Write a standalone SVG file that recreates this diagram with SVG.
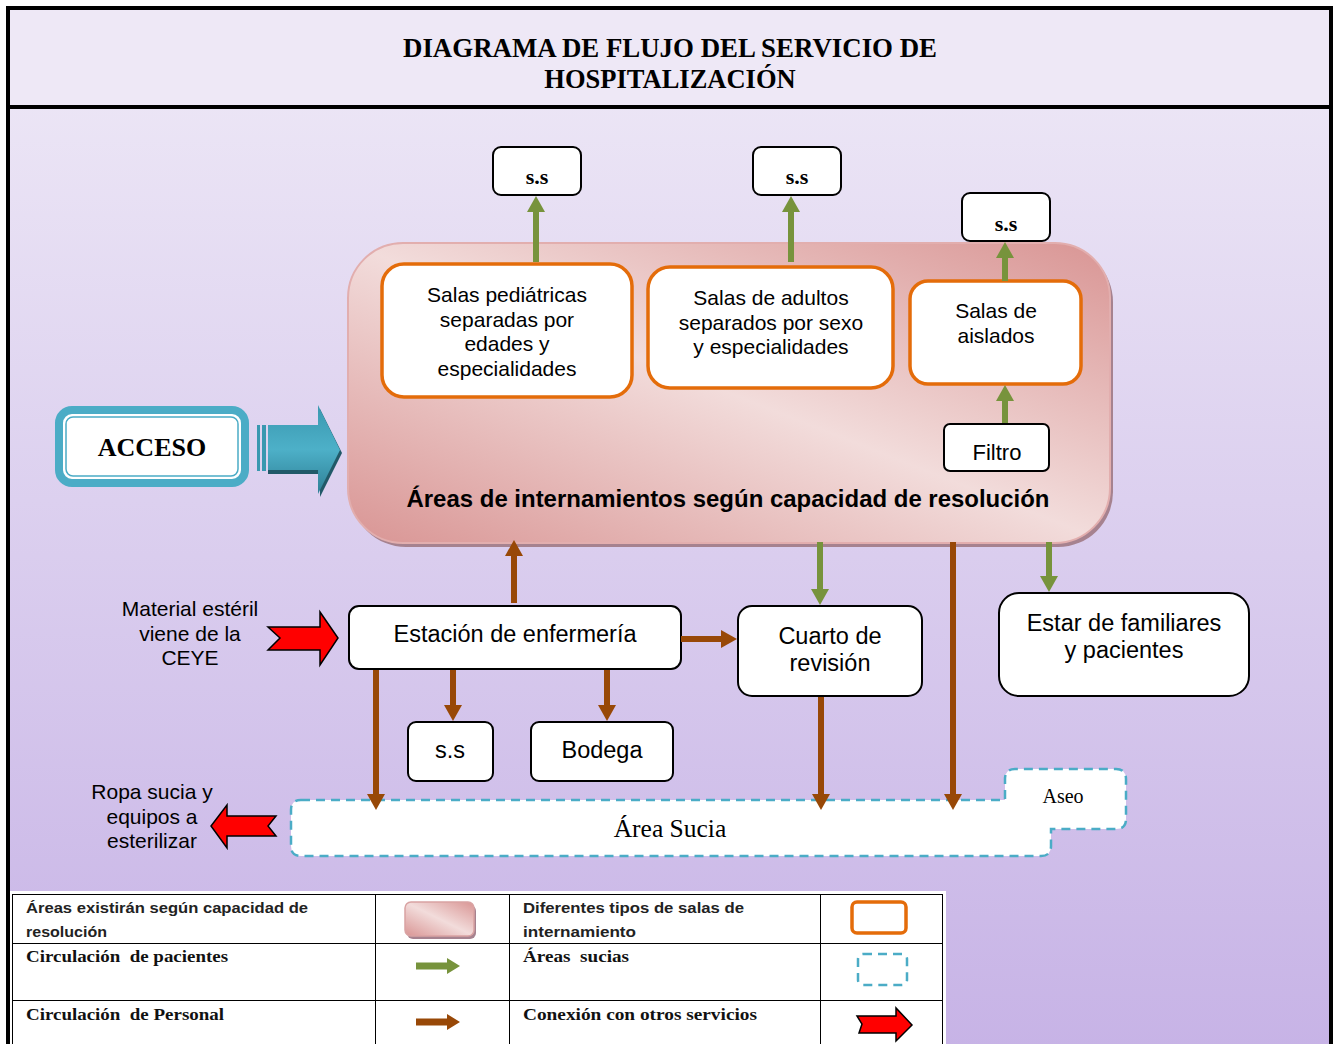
<svg xmlns="http://www.w3.org/2000/svg" width="1333" height="1044" viewBox="0 0 1333 1044">
<defs>
<linearGradient id="bg" x1="0" y1="0" x2="0" y2="1">
<stop offset="0" stop-color="#EFEAF7"/>
<stop offset="1" stop-color="#C7B3E6"/>
</linearGradient>
<linearGradient id="pink" x1="0" y1="1" x2="1" y2="0">
<stop offset="0" stop-color="#D99594"/>
<stop offset="0.5" stop-color="#F2DCDB"/>
<stop offset="1" stop-color="#D99594"/>
</linearGradient>
<linearGradient id="teal" x1="0" y1="0" x2="0" y2="1">
<stop offset="0" stop-color="#3A98B0"/>
<stop offset="0.5" stop-color="#4DB0C8"/>
<stop offset="1" stop-color="#2E7F95"/>
</linearGradient>
<marker id="ag" markerUnits="userSpaceOnUse" markerWidth="18" markerHeight="18" viewBox="0 0 16 18" refX="6" refY="9" orient="auto">
<path d="M0,0 L16,9 L0,18 Z" fill="#77933C"/>
</marker>
<marker id="ab" markerUnits="userSpaceOnUse" markerWidth="18" markerHeight="18" viewBox="0 0 16 18" refX="6" refY="9" orient="auto">
<path d="M0,0 L16,9 L0,18 Z" fill="#984807"/>
</marker>
<style>
.sans{font-family:"Liberation Sans",Arial,sans-serif;fill:#000}
.serif{font-family:"Liberation Serif","Times New Roman",serif;fill:#000}
.box{fill:#fff;stroke:#000;stroke-width:2}
.sala{fill:#fff;stroke:#E46C0A;stroke-width:3.5}
.g{stroke:#77933C;stroke-width:6;fill:none;marker-end:url(#ag)}
.b{stroke:#984807;stroke-width:6;fill:none;marker-end:url(#ab)}
.red{fill:#FF0000;stroke:#000;stroke-width:1.5;stroke-linejoin:miter}
.dash{fill:#fff;stroke:#4BACC6;stroke-width:2.5;stroke-dasharray:9 6}
.lg{font-family:"Liberation Sans",Arial,sans-serif;font-size:15px;font-weight:bold;fill:#222}
.ls{font-family:"Liberation Serif","Times New Roman",serif;font-size:16px;font-weight:bold;fill:#111}
</style>
</defs>

<!-- background and frame -->
<rect x="0" y="0" width="1333" height="1044" fill="#fff"/>
<rect x="8" y="8" width="1323" height="1040" fill="url(#bg)"/>
<rect x="8" y="8" width="1323" height="99" fill="#EEE8F6"/>
<rect x="8" y="8" width="1323" height="1040" fill="none" stroke="#000" stroke-width="4"/>
<line x1="8" y1="107" x2="1331" y2="107" stroke="#000" stroke-width="4"/>

<g id="title">
<text class="serif" x="670" y="57" font-size="26.5" font-weight="bold" text-anchor="middle" textLength="534" lengthAdjust="spacingAndGlyphs">DIAGRAMA DE FLUJO DEL SERVICIO DE</text>
<text class="serif" x="670" y="88" font-size="26.5" font-weight="bold" text-anchor="middle">HOSPITALIZACIÓN</text>
</g>

<!-- Big internment area -->
<g id="areas">
<rect x="351" y="247" width="762" height="300" rx="55" fill="#A6828F"/>
<rect x="348" y="243" width="762" height="300" rx="55" fill="url(#pink)" stroke="#E2AEAE" stroke-width="2"/>
<text class="sans" x="728" y="507" font-size="24" font-weight="bold" text-anchor="middle" textLength="643" lengthAdjust="spacingAndGlyphs">Áreas de internamientos según capacidad de resolución</text>
</g>

<g id="salas-ped">
<rect class="sala" x="382" y="264" width="250" height="133" rx="22"/>
<text class="sans" font-size="21" text-anchor="middle"><tspan x="507" y="302">Salas pediátricas</tspan><tspan x="507" y="327">separadas por</tspan><tspan x="507" y="351">edades y</tspan><tspan x="507" y="376">especialidades</tspan></text>
</g>
<g id="salas-adultos">
<rect class="sala" x="648" y="267" width="245" height="121" rx="22"/>
<text class="sans" font-size="21" text-anchor="middle"><tspan x="771" y="305">Salas de adultos</tspan><tspan x="771" y="330">separados por sexo</tspan><tspan x="771" y="354">y especialidades</tspan></text>
</g>
<g id="salas-aislados">
<rect class="sala" x="910" y="281" width="171" height="103" rx="18"/>
<text class="sans" font-size="21" text-anchor="middle"><tspan x="996" y="318">Salas de</tspan><tspan x="996" y="343">aislados</tspan></text>
</g>
<g id="filtro">
<rect class="box" x="944" y="424" width="105" height="47" rx="6"/>
<text class="sans" x="997" y="460" font-size="22" text-anchor="middle">Filtro</text>
</g>

<g id="ss1">
<rect class="box" x="493" y="147" width="88" height="48" rx="8"/>
<text class="serif" x="537" y="184" font-size="22" font-weight="bold" text-anchor="middle">s.s</text>
</g>
<g id="ss2">
<rect class="box" x="753" y="147" width="88" height="48" rx="8"/>
<text class="serif" x="797" y="184" font-size="22" font-weight="bold" text-anchor="middle">s.s</text>
</g>
<g id="ss3">
<rect class="box" x="962" y="193" width="88" height="48" rx="8"/>
<text class="serif" x="1006" y="231" font-size="22" font-weight="bold" text-anchor="middle">s.s</text>
</g>

<!-- Acceso -->
<g id="acceso">
<rect x="59" y="410" width="186" height="73" rx="13" fill="#fff" stroke="#4BACC6" stroke-width="8"/>
<rect x="66" y="417" width="172" height="59" rx="7" fill="none" stroke="#4BACC6" stroke-width="1.5"/>
<text class="serif" x="152" y="456" font-size="26" font-weight="bold" text-anchor="middle">ACCESO</text>
</g>
<g id="acceso-arrow">
<rect x="257" y="425" width="3" height="46" fill="#3A98B0"/>
<rect x="262" y="425" width="4" height="46" fill="#3A98B0"/>
<path d="M268,429 H320 V409 L342,453 L320,497 V474 H268 Z" fill="#215968"/>
<path d="M268,425 H318 V405 L340,450 L318,494 V470 H268 Z" fill="url(#teal)"/>
</g>

<!-- lower nodes -->
<g id="estacion">
<rect class="box" x="349" y="606" width="332" height="63" rx="10"/>
<text class="sans" x="515" y="642" font-size="23.5" text-anchor="middle">Estación de enfermería</text>
</g>
<g id="cuarto">
<rect class="box" x="738" y="606" width="184" height="90" rx="14"/>
<text class="sans" font-size="23.5" text-anchor="middle"><tspan x="830" y="644">Cuarto de</tspan><tspan x="830" y="671">revisión</tspan></text>
</g>
<g id="estar">
<rect class="box" x="999" y="593" width="250" height="103" rx="20"/>
<text class="sans" font-size="23.5" text-anchor="middle"><tspan x="1124" y="631">Estar de familiares</tspan><tspan x="1124" y="658">y pacientes</tspan></text>
</g>
<g id="ss4">
<rect class="box" x="408" y="722" width="85" height="59" rx="8"/>
<text class="sans" x="450" y="758" font-size="23.5" text-anchor="middle">s.s</text>
</g>
<g id="bodega">
<rect class="box" x="531" y="722" width="142" height="59" rx="8"/>
<text class="sans" x="602" y="758" font-size="23.5" text-anchor="middle">Bodega</text>
</g>

<!-- Area sucia -->
<g id="area-sucia">
<path class="dash" d="M301,800 H1005 V779 Q1005,769 1015,769 H1116 Q1126,769 1126,779 V819 Q1126,829 1116,829 H1051 V846 Q1051,856 1041,856 H301 Q291,856 291,846 V810 Q291,800 301,800 Z"/>
<text class="serif" x="670" y="837" font-size="25.5" text-anchor="middle">Área Sucia</text>
<text class="serif" x="1063" y="803" font-size="20" text-anchor="middle">Aseo</text>
</g>

<!-- connectors -->
<g id="connectors">
<line class="g" x1="536" y1="262" x2="536" y2="206"/>
<line class="g" x1="791" y1="262" x2="791" y2="206"/>
<line class="g" x1="1005" y1="281" x2="1005" y2="252"/>
<line class="g" x1="1005" y1="423" x2="1005" y2="395"/>
<line class="g" x1="820" y1="542" x2="820" y2="595"/>
<line class="g" x1="1049" y1="542" x2="1049" y2="582"/>
<line class="b" x1="514" y1="603" x2="514" y2="550"/>
<line class="b" x1="681" y1="639" x2="727" y2="639"/>
<line class="b" x1="453" y1="670" x2="453" y2="711"/>
<line class="b" x1="607" y1="670" x2="607" y2="711"/>
<line class="b" x1="376" y1="670" x2="376" y2="800"/>
<line class="b" x1="821" y1="697" x2="821" y2="800"/>
<line class="b" x1="953" y1="542" x2="953" y2="800"/>
</g>

<!-- red connection arrows -->
<g id="ceye">
<path class="red" d="M268,627 H320 V612 L338,638 L320,665 V650 H268 L280,638 Z"/>
<text class="sans" font-size="21" text-anchor="middle"><tspan x="190" y="616">Material estéril</tspan><tspan x="190" y="641">viene de la</tspan><tspan x="190" y="665">CEYE</tspan></text>
</g>
<g id="ropa">
<path class="red" d="M276,816 H227 V805 L211,826 L227,848 V836 H276 L268,826 Z"/>
<text class="sans" font-size="21" text-anchor="middle"><tspan x="152" y="799">Ropa sucia y</tspan><tspan x="152" y="824">equipos a</tspan><tspan x="152" y="848">esterilizar</tspan></text>
</g>

<!-- legend -->
<g id="legend">
<rect x="10" y="891" width="936" height="160" fill="#fff"/>
<rect x="12.5" y="894.5" width="930" height="160" fill="#fff" stroke="#000" stroke-width="1"/>
<line x1="12" y1="943.5" x2="943" y2="943.5" stroke="#000" stroke-width="1"/>
<line x1="12" y1="1000.5" x2="943" y2="1000.5" stroke="#000" stroke-width="1"/>
<line x1="375.5" y1="895" x2="375.5" y2="1044" stroke="#000" stroke-width="1"/>
<line x1="509.5" y1="895" x2="509.5" y2="1044" stroke="#000" stroke-width="1"/>
<line x1="820.5" y1="895" x2="820.5" y2="1044" stroke="#000" stroke-width="1"/>

<text class="lg" x="26" y="913" textLength="282" lengthAdjust="spacingAndGlyphs">Áreas existirán según capacidad de</text>
<text class="lg" x="26" y="937" textLength="81" lengthAdjust="spacingAndGlyphs">resolución</text>
<text class="lg" x="523" y="913" textLength="221" lengthAdjust="spacingAndGlyphs">Diferentes tipos de salas de</text>
<text class="lg" x="523" y="937" textLength="113" lengthAdjust="spacingAndGlyphs">internamiento</text>
<text class="ls" x="26" y="962" xml:space="preserve" textLength="202" lengthAdjust="spacingAndGlyphs">Circulación  de pacientes</text>
<text class="ls" x="523" y="962" xml:space="preserve" textLength="106" lengthAdjust="spacingAndGlyphs">Áreas  sucias</text>
<text class="ls" x="26" y="1020" xml:space="preserve" textLength="198" lengthAdjust="spacingAndGlyphs">Circulación  de Personal</text>
<text class="ls" x="523" y="1020" textLength="234" lengthAdjust="spacingAndGlyphs">Conexión con otros servicios</text>

<rect x="407" y="905" width="69" height="34" rx="6" fill="#A6828F"/>
<rect x="405" y="902" width="69" height="34" rx="6" fill="url(#pink)" stroke="#D9A3A3" stroke-width="1.5"/>
<rect x="852" y="902" width="54" height="31" rx="5" fill="#fff" stroke="#E46C0A" stroke-width="3.5"/>
<rect x="858" y="954" width="49" height="31" rx="5" fill="#fff" stroke="#4BACC6" stroke-width="2.5" stroke-dasharray="9 6"/>
<path d="M416,962.5 H447 V958 L460,966 L447,974 V969.5 H416 Z" fill="#77933C"/>
<path d="M416,1018.5 H447 V1014 L460,1022 L447,1030 V1025.5 H416 Z" fill="#984807"/>
<path class="red" d="M857,1016 H896 V1008 L912,1025 L896,1041 V1033 H859 L862,1024 Z"/>
</g>
</svg>
